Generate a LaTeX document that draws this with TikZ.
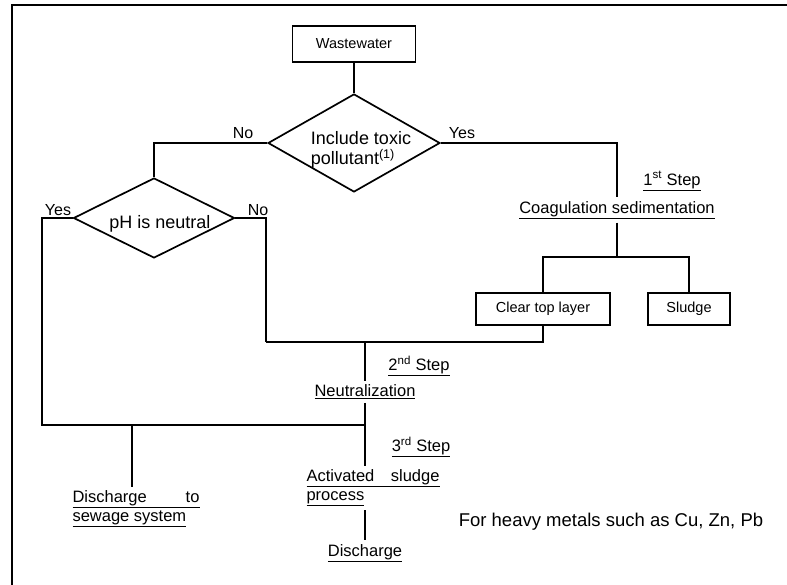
\documentclass[tikz,border=0pt]{standalone}
\usepackage{fontspec}
\setmainfont{Liberation Sans}
\usetikzlibrary{shapes.geometric}
\begin{document}
\begin{tikzpicture}[x=1pt,y=-1pt,
  line width=1.7pt,
  box/.style={draw, rectangle, inner sep=0pt, font=\fontsize{14.5}{16}\selectfont},
  dec/.style={draw, diamond, inner sep=0pt},
  dtext/.style={inner sep=0pt, font=\fontsize{18}{20}\selectfont},
  lbl/.style={inner sep=2pt, font=\fontsize{16}{18}\selectfont},
  stp/.style={inner sep=3pt, font=\fontsize{16.5}{19}\selectfont},
  note/.style={inner sep=2pt, font=\fontsize{18.5}{20}\selectfont},
  frame/.style={line width=1.7pt}
]
\useasboundingbox (0,0) rectangle (787,585);
% frame
\coordinate (f0) at (12,585);
\coordinate (f1) at (12,5);
\coordinate (f2) at (787,5);
\draw[frame] (f0) -- (f1) -- (f2);

% nodes
\node[box, minimum width=123pt, minimum height=36pt] (ww) at (354,44) {Wastewater};
\node[dec, minimum width=172pt, minimum height=98pt] (d1) at (354,143) {};
\node[dtext, align=left] (t1) at (361,150) {Include toxic\\pollutant\textsuperscript{(1)}};
\node[lbl] (no1) at (243,133) {No};
\node[lbl] (yes1) at (462,133) {Yes};

\node[dec, minimum width=161pt, minimum height=80pt] (d2) at (154,218) {};
\node[dtext] (t2) at (160,224) {pH is neutral};
\node[lbl] (yes2) at (58,210) {Yes};
\node[lbl] (no2) at (258,210) {No};

\node[stp] (s1) at (672,181) {\underline{1\textsuperscript{st} Step}};
\node[stp] (coag) at (617,210) {\underline{Coagulation sedimentation}};
\coordinate (j1) at (617,257);
\node[box, minimum width=134pt, minimum height=32pt] (clear) at (543,309) {Clear top layer};
\node[box, minimum width=82pt, minimum height=32pt] (sludge) at (689,309) {Sludge};

\coordinate (j2) at (266,342);
\coordinate (j3) at (365,342);
\node[stp] (s2) at (419,366) {\underline{2\textsuperscript{nd} Step}};
\node[stp] (neut) at (365,392) {\underline{Neutralization}};

\coordinate (j4) at (42,425);
\coordinate (j5) at (365,425);
\coordinate (j6) at (132,425);
\node[stp] (s3) at (421,447) {\underline{3\textsuperscript{rd} Step}};
\node[stp, align=left] (act) at (373,488) {\underline{\makebox[133pt][l]{Activated\hfill sludge}}\\\underline{process}};
\node[stp, align=left] (sew) at (136,509) {\underline{\makebox[127pt][l]{Discharge\hfill to}}\\\underline{sewage system}};
\node[stp] (dis) at (365,553) {\underline{Discharge}};
\node[note] (heavy) at (611,522) {For heavy metals such as Cu, Zn, Pb};

% connectors
\draw (ww.south) -- (d1.north);
\draw (d1.west) -| (d2.north);
\draw (d1.east) -| (coag.north);
\draw (coag.south) -- (j1);
\draw (clear.north) |- (j1) -| (sludge.north);
\draw (d2.east) -| (j2);
\draw (clear.south) |- (j2);
\draw (j3) -- (neut.north);
\draw (d2.west) -| (j4) -- (j5);
\draw (j6) -- (j6 |- sew.north);
\draw (neut.south) -- (neut.south |- act.north);
\draw (act.south -| dis.north) -- (dis.north);
\end{tikzpicture}
\end{document}
